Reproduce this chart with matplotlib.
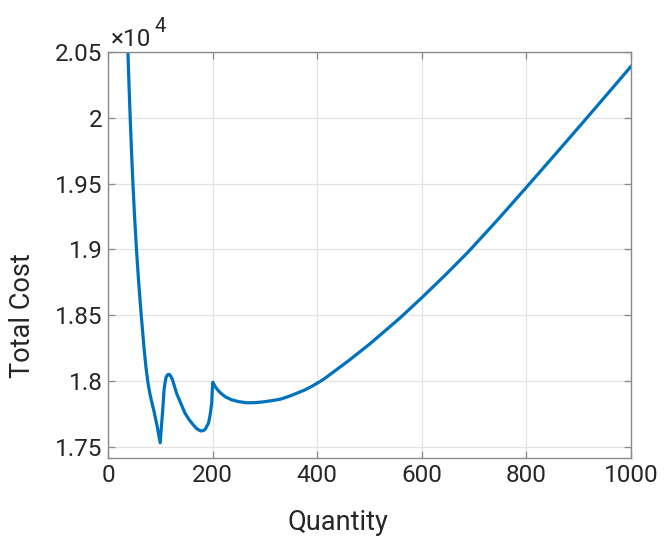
import matplotlib
matplotlib.use("Agg")
import matplotlib.pyplot as plt
from matplotlib.ticker import FuncFormatter

# total cost curve
quantity = [36.5, 37.9, 40, 42.2, 45, 47.4, 50.5, 54.2, 58.5, 63.3, 69, 72.5, 76,
            80, 84, 88, 94, 99.5, 104.4, 107, 109, 111, 114, 117, 120, 123, 131,
            140, 147, 155, 163, 170, 177, 182, 186, 192, 195, 198, 200, 205,
            210.7, 216, 223.5, 235, 249, 265, 281, 295, 312.8, 330, 344.6, 360,
            376.5, 390, 405, 415, 427.5, 460, 500, 530, 558, 600, 645, 689, 745,
            800, 855, 910, 955, 1000]
total_cost = [20620, 20500, 20240, 20000, 19720, 19500, 19255, 19000, 18745, 18500,
              18235, 18100, 17990, 17900, 17830, 17765, 17650, 17530, 17780, 17935,
              17990, 18030, 18048, 18050, 18035, 18010, 17905, 17820, 17755, 17705,
              17665, 17635, 17620, 17622, 17635, 17680, 17740, 17830, 17990, 17955,
              17926, 17905, 17881, 17858, 17843, 17834, 17835, 17840, 17850, 17862,
              17881, 17905, 17932, 17960, 17995, 18021, 18058, 18154, 18280, 18382,
              18478, 18633, 18806, 18982, 19225, 19472, 19722, 19974, 20182, 20391]

x_ticks = [0, 200, 400, 600, 800, 1000]
y_ticks = [17500, 18000, 18500, 19000, 19500, 20000, 20500]

plt.rcParams["font.family"] = ["Roboto", "DejaVu Sans"]
axis_gray = "#8a8a8a"
text_gray = "#262626"

fig = plt.figure(figsize=(6.65, 5.43), dpi=100)
ax = fig.add_axes([0.1626, 0.156, 0.7863, 0.7482])

ax.plot(quantity, total_cost, color="#0072BD", linewidth=2.3,
        solid_joinstyle="round")

ax.set_xlim(0, 1000)
ax.set_ylim(17412, 20500)
ax.set_xticks(x_ticks)
ax.set_yticks(y_ticks)
ax.yaxis.set_major_formatter(FuncFormatter(lambda v, _: f"{v / 1e4:g}"))

ax.grid(True, color="#e3e3e3", linewidth=0.9)
ax.set_axisbelow(True)
for side in ax.spines.values():
    side.set_color(axis_gray)
    side.set_linewidth(1.0)
ax.tick_params(direction="in", length=5, width=0.9, color=axis_gray,
               top=True, right=True, labelsize=17.5, labelcolor=text_gray, pad=4)

ax.set_xlabel("Quantity", fontsize=19.5, color=text_gray)
ax.set_ylabel("Total Cost", fontsize=19.5, color=text_gray)
ax.xaxis.set_label_coords(0.44, -0.125)
ax.yaxis.set_label_coords(-0.138, 0.35)

# exponent shown above the y axis
ax.text(0.006, 1.0148, "×10", transform=ax.transAxes, fontsize=17.5,
        color=text_gray, ha="left", va="baseline")
ax.text(0.089, 1.049, "4", transform=ax.transAxes, fontsize=14.5,
        color=text_gray, ha="left", va="baseline")

fig.savefig("out.png", dpi=100)
